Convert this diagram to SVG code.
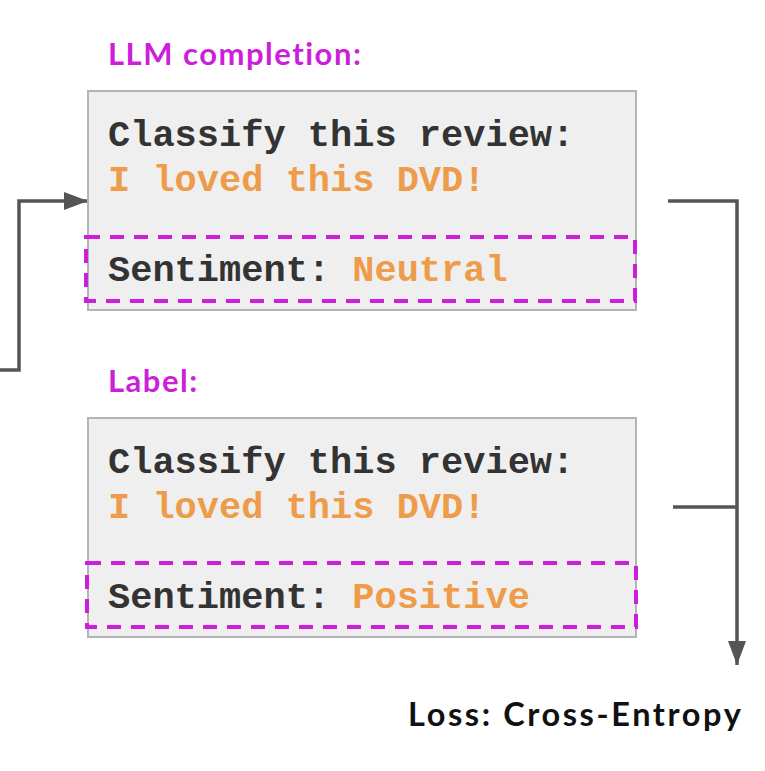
<svg xmlns="http://www.w3.org/2000/svg" width="765" height="771" viewBox="0 0 765 771">
<defs>
<style>
.box{fill:#efefef;stroke:#b4b4b4;stroke-width:2}
.dash{fill:none;stroke:#cc1fdc;stroke-width:4;stroke-dasharray:14 10}
.mono{font-family:"Liberation Mono","Courier New",monospace;font-weight:bold;font-size:37px}
.dark{fill:#333333}
.or{fill:#ee9c4a}
.title{font-family:Lato,"Liberation Sans",sans-serif;font-weight:bold;font-size:31px;letter-spacing:1.5px;fill:#cc1fdc}
.loss{font-family:Lato,"Liberation Sans",sans-serif;font-weight:bold;font-size:32.5px;letter-spacing:2.6px;fill:#111111}
.conn{fill:none;stroke:#555555;stroke-width:3.5}
</style>
<marker id="arr" markerWidth="24" markerHeight="18" refX="24" refY="9" orient="auto" markerUnits="userSpaceOnUse" viewBox="0 0 24 18">
<path d="M0,0 L24,9 L0,18 z" fill="#555555"/>
</marker>
</defs>
<rect width="765" height="771" fill="#ffffff"/>
<g id="connectors">
<path class="conn" d="M0,370 H19 V201 H88" marker-end="url(#arr)"/>
<path class="conn" d="M668,201 H737 V665" marker-end="url(#arr)"/>
<path class="conn" d="M673,507 H737"/>
</g>
<g id="title-completion"><text class="title" x="108" y="65">LLM completion:</text></g>
<g id="completion">
<rect class="box" x="88" y="91" width="548" height="219"/>
<rect class="dash" x="86" y="237" width="549" height="64"/>
<text class="mono dark" x="108" y="146">Classify this review:</text>
<text class="mono or" x="108" y="191">I loved this DVD!</text>
<text class="mono" x="108" y="281"><tspan class="dark">Sentiment: </tspan><tspan class="or">Neutral</tspan></text>
</g>
<g id="title-label"><text class="title" x="108" y="392">Label:</text></g>
<g id="label">
<rect class="box" x="88" y="418" width="548" height="219"/>
<rect class="dash" x="87" y="563" width="549" height="64"/>
<text class="mono dark" x="108" y="473">Classify this review:</text>
<text class="mono or" x="108" y="518">I loved this DVD!</text>
<text class="mono" x="108" y="608"><tspan class="dark">Sentiment: </tspan><tspan class="or">Positive</tspan></text>
</g>
<g id="loss"><text class="loss" x="408" y="726">Loss: Cross-Entropy</text></g>
</svg>
